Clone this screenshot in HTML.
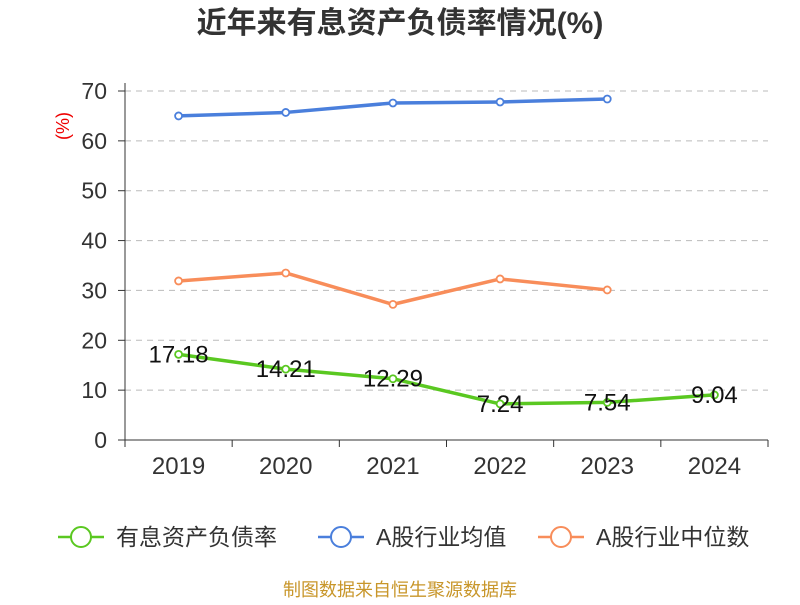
<!DOCTYPE html>
<html><head><meta charset="utf-8"><style>
body{margin:0;background:#fff;font-family:"Liberation Sans","Noto Sans CJK SC",sans-serif}
</style></head><body>
<svg id="c" width="800" height="600" xmlns="http://www.w3.org/2000/svg"></svg>
<script>
const categories=["2019","2020","2021","2022","2023","2024"];
const companyValues=[17.18,14.21,12.29,7.24,7.54,9.04];
const industryAvg=[65.0,65.7,67.6,67.8,68.4];
const industryMedian=[31.9,33.5,27.2,32.3,30.1];
const yTicks=[0,10,20,30,40,50,60,70];
const svg=document.getElementById('c');const NS='http://www.w3.org/2000/svg';
const L=125,R=768,T=91,B=440,ymax=70;
const bw=(R-L)/categories.length;
const x=i=>L+bw*(i+0.5);
const y=v=>B-(v/ymax)*(B-T);
function el(t,a,txt){const e=document.createElementNS(NS,t);for(const k in a)e.setAttribute(k,a[k]);if(txt!==undefined)e.textContent=txt;svg.appendChild(e);return e;}
const f='"Liberation Sans","Noto Sans CJK SC",sans-serif';
let e=el('text',{x:400,y:33,'text-anchor':'middle','font-size':30,'font-weight':'bold',fill:'#333','font-family':f},'近年来有息资产负债率情况(%)');


e=el('text',{x:0,y:0,transform:'translate(69,126) rotate(-90)','text-anchor':'middle','font-size':18,fill:'#e00','font-family':f},'(%)');


yTicks.forEach(v=>{
 if(v>0){const g=el('line',{x1:L,x2:R,y1:y(v),y2:y(v),stroke:'#bbb','stroke-dasharray':'6,5'});
 
 }
 const tk=el('line',{x1:L-7,x2:L,y1:y(v),y2:y(v),stroke:'#333'});
 
 
 const t=el('text',{x:L-18,y:y(v)+8,'text-anchor':'end','font-size':23,fill:'#333','font-family':f},String(v));
 
 
});
e=el('line',{x1:L,x2:L,y1:T-8,y2:B,stroke:'#333'});


e=el('line',{x1:L,x2:R,y1:B,y2:B,stroke:'#333'});


for(let i=0;i<=categories.length;i++){const t=el('line',{x1:L+bw*i,x2:L+bw*i,y1:B,y2:B+7,stroke:'#333'});
 
 }
categories.forEach((c,i)=>{const t=el('text',{x:x(i),y:B+34,'text-anchor':'middle','font-size':24,fill:'#333','font-family':f},c);
 
 });
function series(vals,color,name,labels){
 const p=el('polyline',{points:vals.map((v,i)=>x(i)+','+y(v)).join(' '),fill:'none',stroke:color,'stroke-width':3.5,'stroke-linejoin':'round'});
 
 
 vals.forEach((v,i)=>{const c=el('circle',{cx:x(i),cy:y(v),r:3.5,fill:'#fff',stroke:color,'stroke-width':1.8});
 
 
 if(labels){const t=el('text',{x:x(i),y:y(v)+8,'text-anchor':'middle','font-size':24,fill:'#111','font-family':f},v.toFixed(2));
 
 }});
}
series(industryAvg,'#4a7fdc','industry-average',false);
series(industryMedian,'#f88d5a','industry-median',false);
series(companyValues,'#5ac821','company',true);
const leg=[['有息资产负债率','#5ac821',58],['A股行业均值','#4a7fdc',318],['A股行业中位数','#f88d5a',538]];
leg.forEach(([t,c,lx],i)=>{
 const l=el('line',{x1:lx,x2:lx+46,y1:537,y2:537,stroke:c,'stroke-width':2.5});
 
 
 const ci=el('circle',{cx:lx+23,cy:537,r:10,fill:'#fff',stroke:c,'stroke-width':2});
 
 
 const tx=el('text',{x:lx+58,y:545,'font-size':23,fill:'#333','font-family':f},t);
 
 
});
e=el('text',{x:400,y:596,'text-anchor':'middle','font-size':18,fill:'#c8962a','font-family':f},'制图数据来自恒生聚源数据库');


</script>
</body></html>
